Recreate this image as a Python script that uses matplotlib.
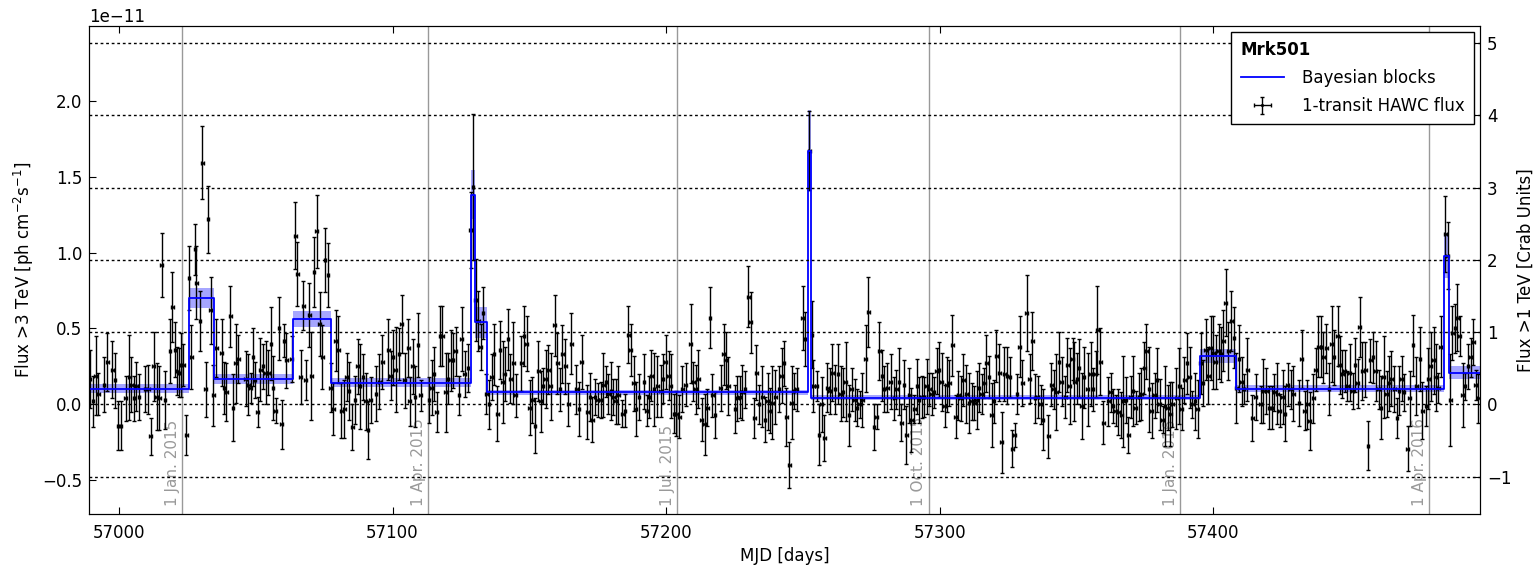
import numpy as np
import matplotlib
matplotlib.use("Agg")
import matplotlib.pyplot as plt

# daily HAWC transits, flux > 3 TeV in units of 1e-11 ph cm^-2 s^-1
mjd = [
    56989.4, 56990.5, 56991.5, 56992.4, 56994.5, 56995.7, 56997.6, 56998.5, 56999.8, 57000.6,
    57002.4, 57003.7, 57004.5, 57005.5, 57006.3, 57007.3, 57009.5, 57010.7, 57011.6, 57012.6,
    57013.8, 57014.7, 57015.6, 57016.8, 57018.6, 57019.5, 57020.5, 57021.3, 57021.9, 57022.8,
    57023.5, 57024.6, 57025.6, 57026.4, 57027.8, 57028.3, 57029.6, 57030.5, 57031.7, 57032.5,
    57033.5, 57034.5, 57035.6, 57037.5, 57038.4, 57039.2, 57040.7, 57041.7, 57042.7, 57043.6,
    57046.3, 57047.3, 57048.1, 57049.0, 57049.7, 57050.7, 57051.7, 57052.6, 57053.6, 57054.6,
    57055.6, 57056.3, 57057.3, 57058.5, 57059.5, 57060.3, 57061.2,
    57063.1, 57064.4, 57065.2, 57066.4, 57067.4, 57068.3, 57069.5, 57070.3, 57071.3, 57072.3,
    57073.4, 57074.3, 57075.3, 57076.4, 57077.4, 57078.4, 57079.2, 57080.2, 57081.3, 57082.3,
    57083.2, 57084.1, 57085.3, 57086.3, 57087.2, 57088.1, 57089.2, 57090.2, 57091.0, 57092.0,
    57093.9, 57095.1, 57096.3, 57098.5, 57099.3, 57100.2, 57101.2, 57102.4, 57103.4, 57104.5,
    57105.7, 57106.3, 57107.3, 57108.2, 57109.3, 57110.3, 57113.3, 57114.3, 57115.2, 57116.2,
    57117.3, 57118.2, 57119.4, 57120.3, 57121.3, 57122.1, 57123.1, 57124.3, 57125.3, 57126.4,
    57127.6, 57128.6, 57129.4, 57130.4, 57131.3, 57132.2, 57133.1, 57134.3,
    57135.3, 57136.3, 57137.1, 57138.3, 57139.3, 57140.2, 57141.0, 57142.2, 57143.1, 57144.1,
    57145.0, 57147.1, 57148.1, 57149.1, 57150.2, 57151.1, 57152.1, 57153.3, 57154.2, 57155.0,
    57156.0, 57157.0, 57157.8, 57159.3, 57160.3, 57161.2, 57162.1, 57163.1, 57164.3, 57165.3,
    57167.2, 57168.2, 57169.2, 57171.2, 57172.2, 57173.1, 57174.0, 57175.0, 57176.1, 57177.1,
    57178.0, 57178.9, 57179.9, 57180.7, 57181.6, 57182.6, 57184.0, 57185.0, 57186.2, 57187.1,
    57188.1, 57188.9, 57190.1, 57191.9, 57192.9, 57193.8, 57194.6, 57195.6, 57196.8, 57198.0,
    57198.9, 57199.9, 57200.9, 57201.7, 57202.9, 57203.8, 57204.8, 57206.0, 57207.2,
    57209.0, 57209.9, 57210.8, 57211.8, 57213.0, 57214.1, 57215.1, 57216.1, 57216.9, 57217.9,
    57220.0, 57221.0, 57221.8, 57222.8, 57225.2, 57226.1, 57226.9, 57227.9, 57228.9, 57230.1,
    57230.9, 57232.2, 57233.0, 57234.0, 57235.2, 57236.2, 57237.1, 57237.9, 57238.9, 57239.9,
    57241.3, 57242.3, 57243.1, 57244.0, 57245.0, 57245.9, 57246.8, 57247.8, 57249.9, 57250.8,
    57252.4, 57253.4, 57253.9, 57255.0, 57255.9, 57256.9, 57257.9, 57258.9, 57259.8, 57260.8,
    57261.8, 57262.9, 57263.9, 57264.7, 57265.7, 57266.9, 57267.9, 57268.9, 57269.8, 57270.8,
    57271.8, 57273.0, 57274.0, 57276.0, 57277.0, 57277.9, 57278.9, 57279.7, 57280.9,
    57282.1, 57283.4, 57284.2, 57285.2, 57286.0, 57287.0, 57287.9, 57288.9, 57289.7, 57290.7,
    57291.7, 57292.5, 57293.4, 57294.3, 57295.3, 57296.2, 57297.1, 57298.0, 57299.0, 57299.8,
    57300.8, 57301.8, 57302.6, 57303.5, 57304.7, 57305.9, 57306.9, 57307.7, 57308.7, 57309.8,
    57310.8, 57311.8, 57312.7, 57313.6, 57314.4, 57315.4, 57316.3, 57317.1, 57318.1, 57319.0,
    57319.9, 57320.8, 57321.8, 57322.7, 57323.7, 57324.6, 57325.7, 57326.6, 57327.4, 57328.3,
    57329.3, 57330.3, 57331.8, 57333.0, 57333.9, 57334.9, 57335.8, 57337.0, 57337.8, 57339.7,
    57340.9, 57341.7, 57342.7, 57343.7, 57344.7, 57345.9, 57346.7, 57347.6, 57348.6, 57349.3,
    57350.2, 57351.0, 57352.0, 57352.8, 57354.1,
    57355.3, 57356.1, 57357.1, 57357.7, 57358.7, 57359.8, 57361.7, 57362.6, 57363.4, 57364.4,
    57365.4, 57366.4, 57367.2, 57368.1, 57369.0, 57369.9, 57370.7, 57371.7, 57373.0, 57373.8,
    57374.8, 57375.6, 57376.6, 57377.6, 57378.6, 57379.5, 57380.5, 57381.5, 57382.4, 57383.4,
    57384.4, 57385.1, 57386.6, 57387.6, 57388.5, 57389.5, 57390.5, 57391.5, 57392.4, 57393.4,
    57394.4, 57395.5, 57396.3, 57397.3, 57398.3, 57399.1, 57400.1, 57401.0, 57402.0, 57402.9,
    57403.7, 57404.6, 57405.6, 57406.6, 57407.6, 57408.5, 57409.5, 57410.5, 57411.3, 57412.5,
    57414.4, 57415.6, 57417.4, 57418.3, 57419.5, 57420.5, 57421.4, 57422.4, 57423.5, 57424.4,
    57425.4, 57426.3, 57427.3,
    57428.4, 57429.3, 57431.4, 57432.4, 57433.5, 57434.5, 57435.3, 57436.6, 57437.5, 57438.5,
    57439.4, 57440.3, 57441.4, 57442.4, 57443.4, 57444.2, 57445.5, 57446.3, 57447.3, 57448.1,
    57449.1, 57450.0, 57451.0, 57451.9, 57452.8, 57453.6, 57454.6, 57455.6, 57456.6, 57457.5,
    57458.5, 57459.5, 57460.5, 57461.4, 57462.4, 57463.4, 57464.4, 57465.2, 57466.2, 57467.2,
    57468.0, 57469.0, 57469.8, 57471.1, 57471.9, 57473.1, 57474.3, 57475.6, 57476.5, 57477.8,
    57478.7, 57479.6, 57480.6, 57481.4, 57482.4, 57483.2, 57484.9, 57485.8, 57486.7, 57487.5,
    57488.4, 57489.3, 57490.2, 57491.2, 57492.1, 57493.2, 57494.2, 57495.1, 57496.0, 57496.9,
]

flux = [
    0.17, 0.02, 0.19, 0.07, 0.13, 0.28, 0.23, 0.16, -0.14, -0.14,
    0.04, 0.18, 0.13, 0.04, 0.12, 0.05, 0.10, 0.10, -0.21, 0.25,
    0.05, 0.04, 0.92, 0.03, 0.35, 0.64, 0.36, 0.22, 0.21, 0.26,
    0.26, -0.20, 0.83, 0.31, 1.02, 0.80, 0.55, 1.59, 0.10, 1.22,
    0.62, 0.06, 0.37, 0.34, 0.11, 0.08, 0.58, -0.02, 0.27, 0.30,
    0.17, 0.13, 0.11, 0.31, 0.16, -0.05, 0.23, 0.25, 0.21, 0.21,
    0.40, 0.11, -0.04, 0.50, -0.13, 0.42, 0.29,
    0.30, 1.11, 0.86, 0.18, 0.65, 0.16, 0.59, 0.19, 0.87, 1.14,
    0.53, 0.31, 0.95, 0.85, 0.11, -0.03, 0.42, 0.36, -0.04, -0.03,
    0.18, 0.09, -0.15, 0.03, 0.25, 0.12, 0.18, 0.02, -0.17, 0.03,
    0.07, 0.15, 0.28, 0.36, 0.19, 0.31, 0.23, 0.33, 0.53, 0.16,
    0.37, 0.02, 0.25, 0.05, 0.39, 0.06, 0.03, 0.11, 0.20, -0.05,
    0.45, 0.45, 0.08, 0.17, 0.29, 0.29, 0.35, 0.06, 0.43, 0.20,
    0.24, 1.15, 1.43, 0.69, 0.55, 0.38, 0.60, 0.07,
    0.00, 0.18, 0.33, -0.06, 0.36, 0.15, 0.20, 0.43, 0.17, 0.27,
    0.06, 0.27, 0.45, 0.40, -0.02, 0.03, -0.14, 0.22, 0.02, 0.12,
    0.17, 0.23, 0.12, 0.52, 0.27, 0.10, 0.33, 0.25, 0.00, 0.40,
    0.10, -0.03, 0.28, -0.05, 0.05, -0.10, 0.05, 0.03, 0.03, 0.13,
    0.15, 0.07, 0.09, 0.05, 0.02, 0.06, -0.06, -0.04, 0.46, 0.36,
    0.14, -0.03, 0.05, 0.15, -0.04, 0.05, 0.19, 0.10, 0.12, 0.09,
    0.17, 0.28, 0.19, 0.12, -0.06, -0.06, -0.08, 0.10, 0.13,
    0.40, 0.15, 0.10, 0.17, -0.10, -0.13, -0.02, 0.57, 0.06, -0.07,
    0.11, 0.33, 0.29, 0.12, -0.03, 0.04, 0.05, 0.08, 0.10, 0.71,
    0.54, -0.09, 0.21, 0.00, 0.05, -0.10, 0.02, -0.04, 0.01, 0.05,
    0.10, 0.19, 0.27, -0.08, -0.40, 0.01, 0.09, 0.10, 0.57, 0.43,
    1.67, 0.46, 0.12, 0.12, -0.20, 0.00, -0.22, 0.11, 0.09, 0.21,
    0.10, 0.20, 0.07, 0.08, 0.15, -0.07, 0.10, 0.03, -0.02, 0.00,
    0.03, 0.30, 0.61, -0.15, -0.08, 0.35, 0.19, 0.10, 0.11,
    0.15, 0.04, 0.10, 0.15, -0.12, 0.13, -0.20, 0.06, -0.10, -0.03,
    0.12, 0.03, 0.05, 0.05, 0.12, 0.10, 0.07, 0.08, 0.22, 0.23,
    0.15, -0.01, 0.13, 0.14, 0.39, -0.08, 0.06, 0.04, 0.16, 0.07,
    0.01, 0.02, 0.01, 0.03, 0.11, 0.07, 0.14, 0.27, 0.18, -0.07,
    0.02, 0.32, 0.21, -0.25, 0.20, 0.19, 0.18, -0.29, -0.20, 0.07,
    0.38, 0.14, 0.60, 0.17, 0.42, 0.04, 0.05, 0.00, -0.10, -0.21,
    0.13, 0.10, 0.08, 0.28, 0.15, 0.05, 0.26, 0.12, 0.30, 0.15,
    0.17, 0.24, -0.01, 0.18, 0.10,
    0.20, 0.10, 0.20, 0.49, 0.28, -0.12, 0.02, 0.08, -0.01, -0.04,
    -0.05, -0.07, 0.02, 0.03, -0.20, 0.05, 0.09, -0.02, 0.05, 0.07,
    0.24, 0.35, 0.10, -0.04, 0.06, 0.16, 0.00, -0.10, -0.01, -0.02,
    -0.06, 0.00, 0.04, 0.12, -0.03, 0.16, 0.27, 0.18, 0.00, 0.02,
    -0.03, 0.27, 0.14, 0.36, 0.19, 0.37, 0.34, 0.28, 0.35, 0.33,
    0.42, 0.67, 0.35, 0.55, 0.44, 0.11, 0.30, 0.15, 0.10, 0.23,
    -0.09, 0.05, 0.00, 0.09, 0.09, -0.02, -0.02, 0.08, 0.07, -0.04,
    0.05, -0.06, 0.13,
    0.10, 0.07, 0.01, 0.30, -0.04, 0.00, -0.11, 0.04, 0.23, 0.38,
    0.38, 0.31, 0.37, 0.10, 0.40, 0.31, 0.45, 0.26, 0.20, 0.22,
    0.12, 0.21, 0.09, 0.26, 0.14, 0.51, 0.22, 0.23, -0.27, 0.29,
    0.31, 0.22, 0.10, -0.02, 0.18, 0.07, 0.14, 0.17, 0.10, -0.09,
    0.09, 0.17, 0.08, -0.29, 0.04, 0.39, 0.12, 0.30, -0.04, -0.01,
    0.17, 0.25, 0.29, 0.18, 0.11, 0.38, 1.12, 0.98, 0.03, 0.47,
    0.50, 0.57, 0.45, 0.06, 0.12, 0.25, 0.31, 0.41, 0.13, 0.04,
]

flux_err = [
    0.19, 0.17, 0.26, 0.14, 0.18, 0.19, 0.19, 0.18, 0.16, 0.16,
    0.15, 0.28, 0.18, 0.15, 0.16, 0.15, 0.15, 0.16, 0.12, 0.23,
    0.22, 0.21, 0.21, 0.19, 0.21, 0.23, 0.18, 0.16, 0.16, 0.21,
    0.14, 0.13, 0.21, 0.21, 0.17, 0.24, 0.20, 0.24, 0.18, 0.22,
    0.22, 0.20, 0.19, 0.22, 0.17, 0.19, 0.20, 0.22, 0.26, 0.16,
    0.18, 0.20, 0.10, 0.19, 0.12, 0.10, 0.21, 0.15, 0.21, 0.15,
    0.24, 0.21, 0.08, 0.21, 0.16, 0.11, 0.18,
    0.15, 0.22, 0.21, 0.18, 0.16, 0.13, 0.21, 0.29, 0.23, 0.24,
    0.21, 0.21, 0.21, 0.21, 0.16, 0.17, 0.20, 0.22, 0.18, 0.19,
    0.16, 0.19, 0.15, 0.16, 0.18, 0.28, 0.15, 0.19, 0.19, 0.15,
    0.18, 0.18, 0.18, 0.20, 0.16, 0.18, 0.28, 0.17, 0.19, 0.18,
    0.19, 0.16, 0.18, 0.20, 0.21, 0.10, 0.15, 0.18, 0.18, 0.13,
    0.20, 0.20, 0.26, 0.17, 0.20, 0.18, 0.16, 0.13, 0.21, 0.15,
    0.16, 0.25, 0.48, 0.27, 0.20, 0.15, 0.17, 0.13,
    0.16, 0.15, 0.20, 0.18, 0.19, 0.27, 0.18, 0.20, 0.16, 0.27,
    0.14, 0.18, 0.20, 0.18, 0.18, 0.15, 0.18, 0.20, 0.20, 0.12,
    0.19, 0.16, 0.22, 0.20, 0.20, 0.14, 0.19, 0.18, 0.14, 0.20,
    0.16, 0.18, 0.18, 0.18, 0.16, 0.15, 0.12, 0.11, 0.12, 0.21,
    0.10, 0.13, 0.19, 0.12, 0.15, 0.19, 0.09, 0.11, 0.19, 0.17,
    0.18, 0.18, 0.15, 0.18, 0.10, 0.14, 0.17, 0.24, 0.20, 0.17,
    0.16, 0.18, 0.16, 0.21, 0.13, 0.15, 0.14, 0.15, 0.14,
    0.26, 0.13, 0.16, 0.19, 0.14, 0.20, 0.12, 0.20, 0.14, 0.15,
    0.15, 0.20, 0.19, 0.19, 0.16, 0.15, 0.14, 0.18, 0.12, 0.20,
    0.20, 0.13, 0.18, 0.13, 0.20, 0.15, 0.19, 0.15, 0.24, 0.18,
    0.15, 0.18, 0.15, 0.19, 0.15, 0.24, 0.12, 0.14, 0.21, 0.18,
    0.26, 0.22, 0.17, 0.10, 0.20, 0.18, 0.15, 0.16, 0.15, 0.19,
    0.16, 0.20, 0.18, 0.16, 0.26, 0.20, 0.14, 0.14, 0.12, 0.09,
    0.18, 0.22, 0.23, 0.15, 0.08, 0.19, 0.17, 0.15, 0.16,
    0.18, 0.14, 0.13, 0.22, 0.12, 0.16, 0.19, 0.18, 0.21, 0.09,
    0.18, 0.15, 0.14, 0.13, 0.18, 0.11, 0.14, 0.10, 0.15, 0.18,
    0.19, 0.14, 0.18, 0.15, 0.20, 0.14, 0.16, 0.15, 0.17, 0.19,
    0.20, 0.12, 0.11, 0.19, 0.16, 0.13, 0.10, 0.19, 0.14, 0.21,
    0.14, 0.17, 0.19, 0.20, 0.18, 0.19, 0.13, 0.12, 0.08, 0.13,
    0.20, 0.15, 0.25, 0.16, 0.19, 0.16, 0.14, 0.13, 0.20, 0.14,
    0.14, 0.13, 0.25, 0.20, 0.16, 0.14, 0.18, 0.25, 0.14, 0.26,
    0.17, 0.19, 0.22, 0.20, 0.24,
    0.21, 0.14, 0.15, 0.29, 0.22, 0.14, 0.16, 0.13, 0.11, 0.10,
    0.15, 0.15, 0.30, 0.15, 0.12, 0.14, 0.23, 0.11, 0.16, 0.17,
    0.17, 0.18, 0.28, 0.18, 0.15, 0.21, 0.17, 0.09, 0.26, 0.15,
    0.21, 0.15, 0.20, 0.25, 0.14, 0.15, 0.20, 0.20, 0.09, 0.19,
    0.19, 0.20, 0.15, 0.20, 0.19, 0.21, 0.24, 0.18, 0.18, 0.18,
    0.20, 0.22, 0.19, 0.20, 0.20, 0.23, 0.22, 0.16, 0.10, 0.21,
    0.15, 0.15, 0.12, 0.21, 0.15, 0.14, 0.14, 0.12, 0.20, 0.11,
    0.18, 0.18, 0.14,
    0.13, 0.18, 0.15, 0.19, 0.13, 0.16, 0.19, 0.16, 0.14, 0.20,
    0.20, 0.17, 0.16, 0.17, 0.25, 0.18, 0.20, 0.19, 0.16, 0.14,
    0.10, 0.19, 0.12, 0.18, 0.16, 0.20, 0.19, 0.18, 0.16, 0.14,
    0.17, 0.20, 0.13, 0.21, 0.27, 0.15, 0.18, 0.18, 0.15, 0.13,
    0.16, 0.15, 0.12, 0.15, 0.18, 0.20, 0.19, 0.21, 0.19, 0.13,
    0.20, 0.23, 0.22, 0.22, 0.10, 0.20, 0.25, 0.22, 0.30, 0.18,
    0.16, 0.22, 0.13, 0.21, 0.09, 0.15, 0.13, 0.15, 0.10, 0.16,
]

# Bayesian blocks: edges (MJD), level and uncertainty (1e-11 ph cm^-2 s^-1)
block_edges = [56989.0, 57025.7, 57034.6, 57063.5, 57077.4, 57128.5, 57130.1, 57134.4,
               57252.0, 57253.0, 57395.3, 57408.5, 57484.5, 57486.4, 57497.6]
block_flux = [0.105, 0.70, 0.167, 0.564, 0.143, 1.38, 0.54, 0.079,
              1.67, 0.046, 0.32, 0.105, 0.98, 0.21]
block_err = [0.03, 0.066, 0.033, 0.053, 0.03, 0.16, 0.10, 0.015,
             0.27, 0.015, 0.047, 0.02, 0.15, 0.045]

month_mjd = [57023, 57113, 57204, 57296, 57388, 57479]
month_labels = ["1 Jan. 2015", "1 Apr. 2015", "1 Jul. 2015",
                "1 Oct. 2015", "1 Jan. 2016", "1 Apr. 2016"]

crab_unit = 0.4757e-11  # ph cm^-2 s^-1 above 3 TeV per Crab unit
scale = 1e-11

plt.rcParams['font.size'] = 12

fig = plt.figure(figsize=(15.39, 5.66), dpi=100)
ax = fig.add_axes([0.0578, 0.092, 0.9039, 0.862])

# month markers
for m, lab in zip(month_mjd, month_labels):
    ax.axvline(m, color='#999999', lw=1, zorder=1)
    ax.text(m - 0.8, -0.665 * scale, lab, rotation=90, ha='right', va='bottom',
            color='#999999', fontsize=11, zorder=1)

# Bayesian blocks
edges = np.array(block_edges)
lev = np.array(block_flux + [block_flux[-1]]) * scale
err = np.array(block_err + [block_err[-1]]) * scale
ax.fill_between(edges, lev - err, lev + err, step='post', color='#0000ff',
                alpha=0.35, lw=0, zorder=2)
ax.step(edges, lev, where='post', color='#0000ff', lw=1.3, zorder=4,
        label='Bayesian blocks')

# daily fluxes
ax.errorbar(mjd, np.array(flux) * scale, yerr=np.array(flux_err) * scale, xerr=0.5,
            fmt='.', color='black', ms=2.5, elinewidth=1, capsize=1.5, capthick=1,
            zorder=3, label='1-transit HAWC flux')

ax.set_xlim(56989.0, 57497.6)
ax.set_ylim(-0.72 * scale, 2.49 * scale)
ax.set_xticks([57000, 57100, 57200, 57300, 57400])
ax.set_yticks(np.array([-0.5, 0.0, 0.5, 1.0, 1.5, 2.0]) * scale)
ax.tick_params(axis='x', direction='in', top=True, length=5, pad=7)
ax.tick_params(axis='y', direction='in', right=False, length=5, pad=5)
ax.set_xlabel('MJD [days]')
ax.set_ylabel(r'Flux >3 TeV [ph cm$^{-2}$s$^{-1}$]')

ax2 = ax.twinx()
ax2.set_ylim(ax.get_ylim()[0] / crab_unit, ax.get_ylim()[1] / crab_unit)
ax2.set_yticks([-1, 0, 1, 2, 3, 4, 5])
ax2.tick_params(direction='in', length=5, pad=5)
ax2.grid(axis='y', color='black', linestyle=(0, (2, 2)), lw=1)
ax2.set_ylabel('Flux >1 TeV [Crab Units]', labelpad=4)

h, l = ax.get_legend_handles_labels()
leg = ax2.legend(h, l, loc='upper right', title='Mrk501', fancybox=False,
                 edgecolor='black', framealpha=1, borderaxespad=0.35,
                 alignment='left', handlelength=2.6, handletextpad=1.1,
                 labelspacing=0.6, borderpad=0.55)
leg.get_title().set_fontweight('bold')
leg.get_frame().set_linewidth(1)

fig.savefig('out.png', dpi=100)
